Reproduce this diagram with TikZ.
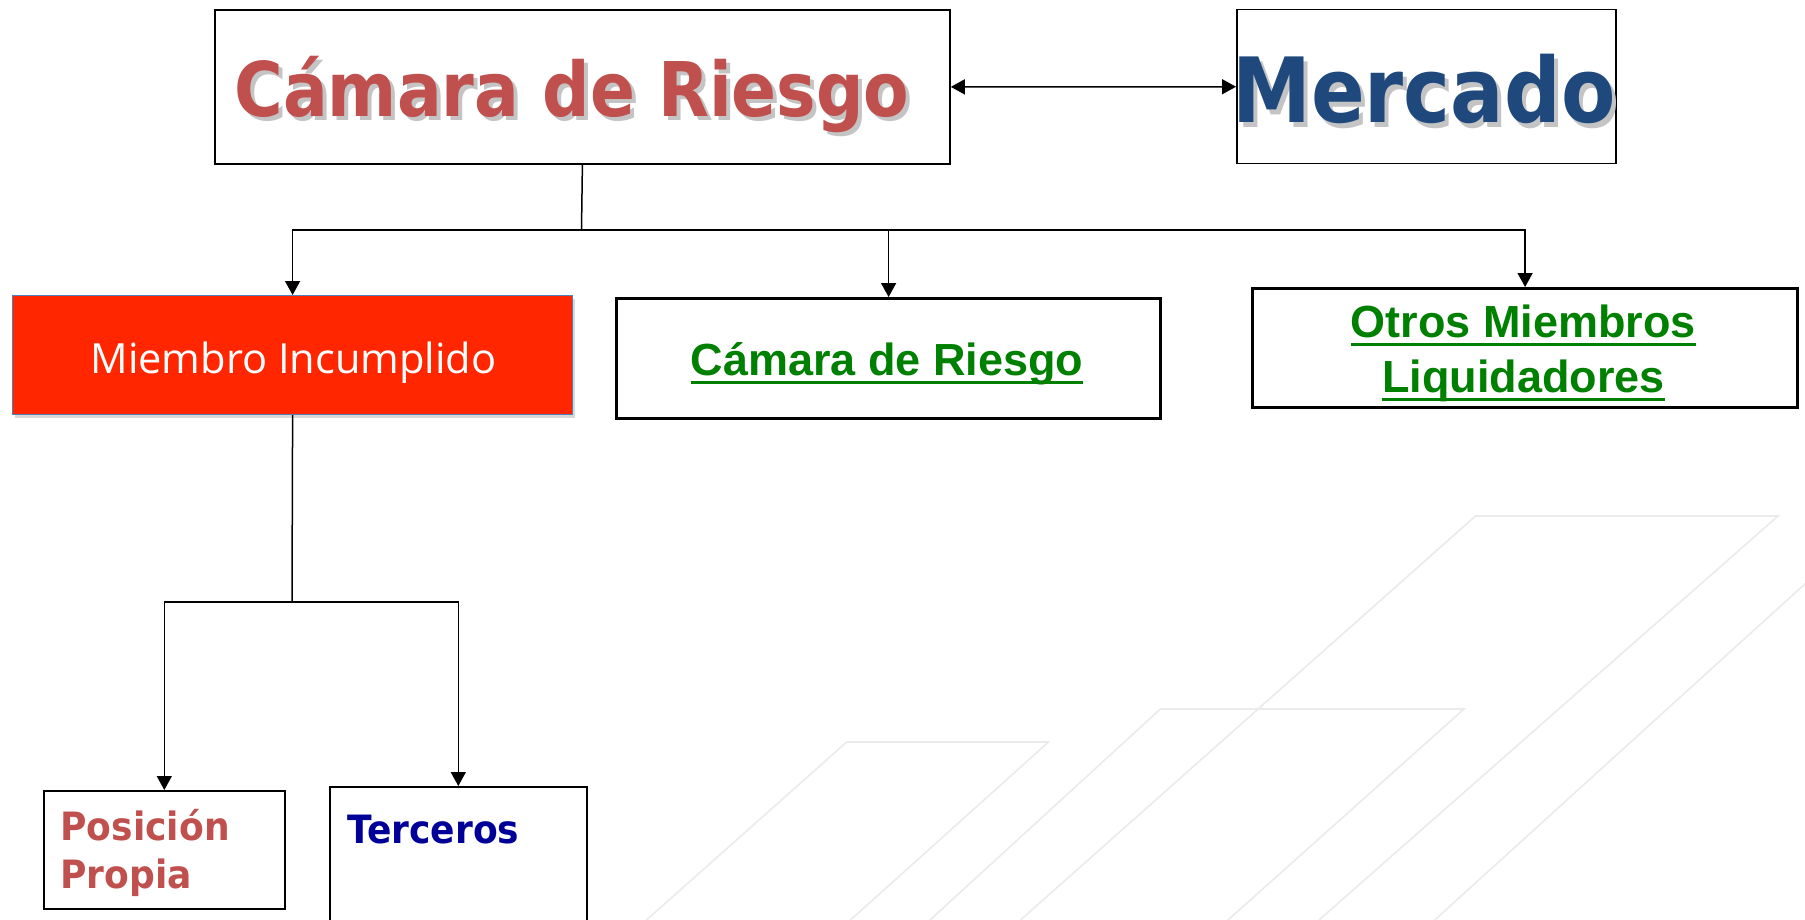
\documentclass[tikz,border=0pt]{standalone}
\usepackage{fontspec}
\usetikzlibrary{arrows.meta,shadows}
\newfontfamily\tahfont[FakeStretch=0.88]{DejaVu Sans}
\newfontfamily\tahwide[FakeStretch=0.925]{DejaVu Sans}
\newfontfamily\arialfont{Liberation Sans}
\newfontfamily\opensfont{Open Sans}
\definecolor{titlered}{HTML}{C0504D}
\definecolor{titleblue}{HTML}{1F497D}
\definecolor{alarmred}{HTML}{FF2600}
\definecolor{edgeblue}{HTML}{4F81BD}
\definecolor{linkgreen}{HTML}{008000}
\definecolor{navy}{HTML}{000099}
\definecolor{bggray}{HTML}{EBEBEB}
\definecolor{shadegray}{HTML}{C4C4C4}
\newcommand{\myul}[1]{\setbox0\hbox{#1}\rlap{\rule[-4.5pt]{\wd0}{1.5pt}}\box0}
\newcommand{\shadowed}[1]{\rlap{\kern2pt\raisebox{-2pt}{\color{shadegray}#1}}#1}
\begin{document}
\begin{tikzpicture}[x=0.5pt,y=-0.5pt,
  box/.style={draw=black,line width=0.9pt,inner sep=0pt,anchor=north west,fill=white},
  thickbox/.style={box,line width=1.6pt},
  txt/.style={inner sep=0pt,anchor=base},
  conn/.style={draw=black,line width=0.75pt},
  arr/.style={conn,-{Triangle[length=7pt,width=7.5pt]}},
  arrtwo/.style={conn,{Triangle[length=7pt,width=7.5pt]}-{Triangle[length=7pt,width=7.5pt]}},
  bgline/.style={draw=bggray,line width=0.8pt},
  bigfont/.style={font=\tahfont\bfseries\fontsize{37.7}{40}\selectfont},
  merfont/.style={font=\tahfont\bfseries\fontsize{45}{48}\selectfont},
  smallfont/.style={font=\tahwide\bfseries\fontsize{19.5}{22}\selectfont},
  greenfont/.style={font=\arialfont\bfseries\fontsize{22.5}{27.5}\selectfont,text=linkgreen}]
\useasboundingbox (0,0) rectangle (1805,920);
\clip (0,0) rectangle (1805,920);
\fill[white] (0,0) rectangle (1805,920);
% background decoration
\draw[bgline] (646.5,920) -- (846.7,742) -- (1048.5,742) -- (850.5,920);
\draw[bgline] (930,920) -- (1160.4,709) -- (1464,709) -- (1228,920);
\draw[bgline] (1020.5,920) -- (1475.5,516) -- (1778,516) -- (1319,920);
\draw[bgline] (1434.7,920) -- (1850,543);
% boxes
\node[box] (A) at (214,9) [minimum width=367.5pt,minimum height=77pt] {};
\node[box,line width=0.75pt] (Mk) at (1236,9) [minimum width=189.5pt,minimum height=77pt] {};
\node[box,fill=alarmred,draw=edgeblue,line width=0.6pt,drop shadow={opacity=0.3,shadow xshift=1pt,shadow yshift=-1.5pt}] (M) at (12,295) [minimum width=280pt,minimum height=59.5pt] {};
\node[thickbox] (C) at (615,297) [minimum width=272pt,minimum height=60pt] {};
\node[thickbox] (O) at (1251,287) [minimum width=272.5pt,minimum height=59.5pt] {};
\node[box,line width=0.8pt] (P) at (43,790) [minimum width=120.5pt,minimum height=59pt] {};
\node[box,line width=0.8pt] (T) at (329,786) [minimum width=128.5pt,minimum height=75pt] {};
% texts
\node[txt,bigfont,text=titlered] (Atext) at (572,117) {\shadowed{Cámara de Riesgo}};
\node[txt,merfont,text=titleblue,anchor=base west] (Mktext) at (1232,123) {\shadowed{Mercado}};
\node[txt,font=\opensfont\fontsize{20.8}{24}\selectfont,text=white] (Mtext) at (293.5,373) {Miembro Incumplido};
\node[txt,greenfont] (Ctext) at (887,375) {\myul{Cámara de Riesgo}};
\node[txt,greenfont] (Otext1) at (1523.5,337) {\myul{Otros Miembros}};
\node[txt,greenfont] (Otext2) at (1523.5,392) {\myul{Liquidadores}};
\node[txt,smallfont,text=titlered,anchor=base west] (Ptext1) at (60,840) {Posición};
\node[txt,smallfont,text=titlered,anchor=base west] (Ptext2) at (60,888) {Propia};
\node[txt,smallfont,text=navy,anchor=base west] (Ttext) at (347,843) {Terceros};
% connectors
\draw[arrtwo] (A.east) -- (Mk.west);
\coordinate (hub) at (581.5,230);
\draw[conn] (A.south) -- (hub);
\draw[arr] (hub) -| (M.north);
\draw[arr] (hub) -| (C.north);
\draw[arr] (hub) -| (O.north);
\coordinate (hubtwo) at (292,602);
\draw[conn] (M.south) -- (hubtwo);
\draw[arr] (hubtwo) -| (P.north);
\draw[arr] (hubtwo) -| (T.north);
\end{tikzpicture}
\end{document}
